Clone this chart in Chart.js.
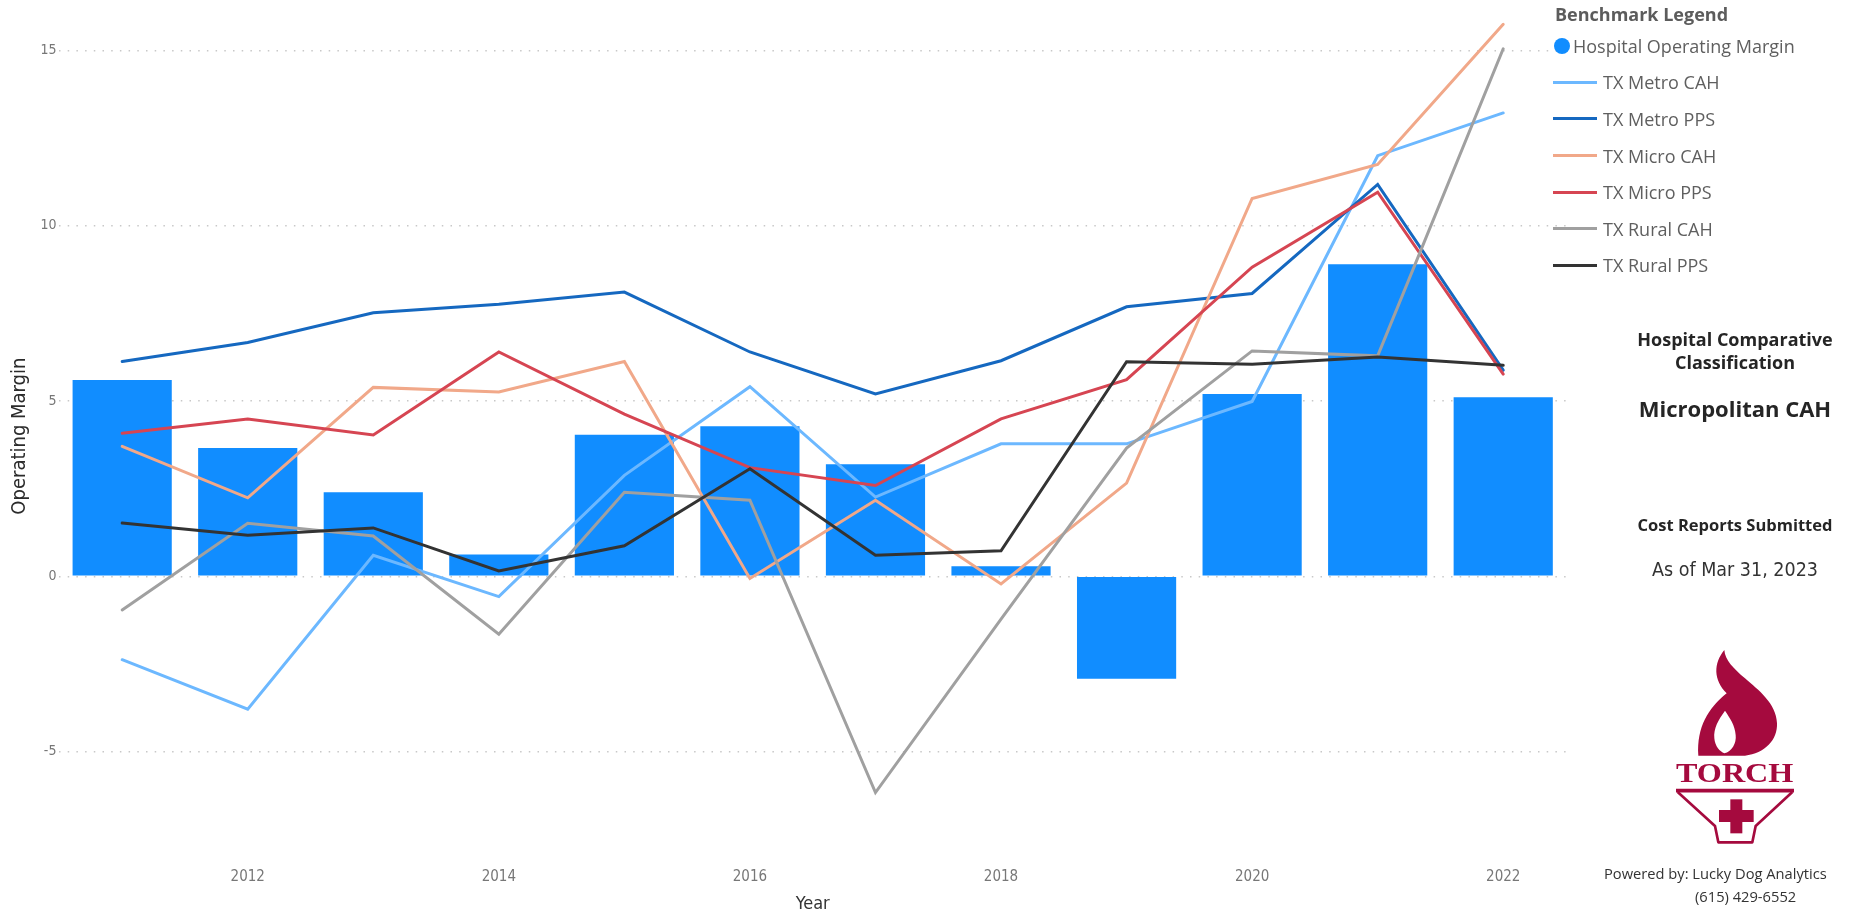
<!DOCTYPE html>
<html lang="en">
<head>
    <meta charset="UTF-8">
    <title>Operating Margin by Year</title>
    <style>
        body {
            margin: 0;
            padding: 0;
            background: #fff;
            overflow: hidden;
            font-family: "Open Sans", "Segoe UI", Arial, sans-serif;
        }

        .page {
            position: relative;
            width: 1862px;
            height: 915px;
        }

        #marginChart {
            position: absolute;
            left: 0;
            top: 0;
        }

        /* Legend built from the chart datasets */
        .legend {
            position: absolute;
            left: 1553px;
            top: 0;
            width: 300px;
        }

        .legend h3 {
            position: absolute;
            left: 2px;
            top: 2px;
            margin: 0;
            font-size: 18px;
            font-weight: 700;
            color: #5c5c5c;
            white-space: nowrap;
        }

        .legend .item {
            position: absolute;
            left: 0;
            height: 24px;
            line-height: 24px;
            font-size: 18px;
            color: #5f5f5f;
            white-space: nowrap;
        }

        .legend .dot {
            position: absolute;
            left: 1px;
            top: 4px;
            width: 16px;
            height: 16px;
            border-radius: 50%;
        }

        .legend .swatch {
            position: absolute;
            left: 0;
            top: 10.5px;
            width: 44px;
            height: 3px;
        }

        .side {
            position: absolute;
            left: 1605px;
            width: 260px;
            text-align: center;
            color: #252525;
            white-space: nowrap;
        }

        .side.heading { font-weight: 700; font-size: 18px; line-height: 23px; }
        .side.big { font-weight: 700; font-size: 22px; }
        .side.sub { font-weight: 700; font-size: 16.5px; }
        .side.date {
            font-family: "DejaVu Sans Condensed", "Liberation Sans Narrow", "DejaVu Sans", sans-serif;
            font-size: 19.5px;
            color: #333;
        }

        .logo {
            position: absolute;
            left: 1665px;
            top: 640px;
        }

        .footer {
            position: absolute;
            font-size: 14.7px;
            color: #333;
            white-space: nowrap;
        }
    </style>
</head>
<body>
    <div class="page">
        <canvas id="marginChart" width="1862" height="915"></canvas>

        <div class="legend" id="legend">
            <h3>Benchmark Legend</h3>
        </div>

        <div class="side heading" style="top: 328px;">Hospital Comparative<br>Classification</div>
        <div class="side big" style="top: 393px;">Micropolitan CAH</div>
        <div class="side sub" style="top: 513px;">Cost Reports Submitted</div>
        <div class="side date" style="top: 558px;">As of Mar 31, 2023</div>

        <!-- TORCH logo -->
        <svg class="logo" width="145" height="215" viewBox="0 0 435 645">
            <g fill="#a50a3e">
                <path d="M178,30 C145,70 145,120 185,160 C130,205 95,260 100,347 L240,347
                         C300,340 338,300 336,250 C334,190 280,150 240,115 C205,85 180,60 178,30 Z"/>
                <text x="33" y="425" font-family="Liberation Serif, DejaVu Serif, serif" font-weight="700"
                      font-size="84" textLength="352" lengthAdjust="spacingAndGlyphs">TORCH</text>
                <rect x="196" y="478" width="36" height="102"/>
                <rect x="162" y="510" width="104" height="36"/>
            </g>
            <path d="M180,212 C160,240 145,265 148,295 C150,320 165,335 178,340
                     C200,335 215,310 212,285 C210,255 195,235 180,212 Z" fill="#fff"/>
            <path d="M33,452 L387,452" stroke="#a50a3e" stroke-width="11"/>
            <path d="M38,456 L150,558 L160,607 L262,607 L272,558 L382,456"
                  stroke="#a50a3e" stroke-width="8" fill="none" stroke-linejoin="round"/>
        </svg>

        <div class="footer" style="left: 1604px; top: 863px;">Powered by: Lucky Dog Analytics</div>
        <div class="footer" style="left: 1695px; top: 886px;">(615) 429-6552</div>
    </div>

    <script src="https://cdn.jsdelivr.net/npm/chart.js"></script>
    <script>
        // Yearly operating margin (%) for the hospital and the Texas benchmarks
        const years = ['2011', '2012', '2013', '2014', '2015', '2016', '2017', '2018', '2019', '2020', '2021', '2022'];
        const hospitalMargin = [5.60, 3.66, 2.40, 0.62, 4.04, 4.28, 3.20, 0.29, -2.92, 5.20, 8.90, 5.11];
        const txMetroCah = [-2.38, -3.79, 0.60, -0.58, 2.88, 5.41, 2.26, 3.78, 3.78, 4.99, 12.00, 13.22];
        const txMetroPps = [6.13, 6.67, 7.52, 7.76, 8.11, 6.40, 5.20, 6.15, 7.69, 8.07, 11.18, 5.88];
        const txMicroCah = [3.71, 2.24, 5.39, 5.26, 6.13, -0.06, 2.17, -0.22, 2.66, 10.78, 11.75, 15.75];
        const txMicroPps = [4.08, 4.49, 4.03, 6.40, 4.63, 3.10, 2.59, 4.49, 5.61, 8.82, 10.96, 5.77];
        const txRuralCah = [-0.96, 1.51, 1.15, -1.65, 2.40, 2.17, -6.17, -1.22, 3.66, 6.43, 6.29, 15.05];
        const txRuralPps = [1.52, 1.17, 1.38, 0.15, 0.87, 3.07, 0.60, 0.73, 6.12, 6.05, 6.26, 6.02];
        const yTicks = [-5, 0, 5, 10, 15];

        const benchmarks = [
            { label: 'TX Metro CAH', data: txMetroCah, color: '#6cb8ff' },
            { label: 'TX Metro PPS', data: txMetroPps, color: '#1568c0' },
            { label: 'TX Micro CAH', data: txMicroCah, color: '#f1a889' },
            { label: 'TX Micro PPS', data: txMicroPps, color: '#d64552' },
            { label: 'TX Rural CAH', data: txRuralCah, color: '#a0a0a0' },
            { label: 'TX Rural PPS', data: txRuralPps, color: '#333333' }
        ];

        const axisFont = "'DejaVu Sans Condensed', 'Liberation Sans Narrow', 'DejaVu Sans', sans-serif";

        const datasets = [{
            type: 'bar',
            label: 'Hospital Operating Margin',
            data: hospitalMargin,
            backgroundColor: '#118dff',
            categoryPercentage: 1,
            barPercentage: 0.79,
            order: 100
        }];

        // later benchmarks are drawn on top of earlier ones
        benchmarks.forEach((b, i) => {
            datasets.push({
                type: 'line',
                label: b.label,
                data: b.data,
                borderColor: b.color,
                backgroundColor: b.color,
                borderWidth: 3,
                tension: 0,
                pointRadius: 0,
                pointHoverRadius: 0,
                borderCapStyle: 'round',
                clip: false,
                order: 20 - i
            });
        });

        const ctx = document.getElementById('marginChart').getContext('2d');
        const chart = new Chart(ctx, {
            type: 'bar',
            data: { labels: years, datasets: datasets },
            options: {
                responsive: false,
                animation: false,
                devicePixelRatio: 1,
                layout: {
                    padding: { top: 15.5, right: 296, bottom: 0, left: 0 }
                },
                plugins: {
                    legend: { display: false },
                    tooltip: { enabled: false }
                },
                scales: {
                    x: {
                        grid: { display: false, drawTicks: false },
                        border: { display: false },
                        ticks: {
                            color: '#777',
                            font: { family: axisFont, size: 15 },
                            padding: 11,
                            maxRotation: 0,
                            autoSkip: false,
                            // only even years carry a label
                            callback: function(value) {
                                const year = this.getLabelForValue(value);
                                return Number(year) % 2 === 0 ? year : null;
                            }
                        },
                        title: {
                            display: true,
                            text: 'Year',
                            color: '#333',
                            font: { family: axisFont, size: 18 },
                            padding: { top: 0, bottom: 0 }
                        },
                        afterFit: scale => { scale.height = 58.3; }
                    },
                    y: {
                        min: -8,
                        max: 16,
                        afterBuildTicks: scale => {
                            scale.ticks = yTicks.map(v => ({ value: v }));
                        },
                        grid: {
                            color: '#c8c8c8',
                            lineWidth: 1.5,
                            drawTicks: false
                        },
                        border: { display: false, dash: [1.5, 7.2] },
                        ticks: {
                            color: '#777',
                            font: { family: axisFont, size: 14 },
                            padding: 3
                        },
                        title: {
                            display: true,
                            text: 'Operating Margin',
                            color: '#2b2b2b',
                            font: { family: axisFont, size: 20 },
                            padding: { top: 8, bottom: 0 }
                        },
                        afterFit: scale => { scale.width = 59.4; }
                    }
                }
            }
        });

        // HTML legend generated from the chart's datasets
        const legendBox = document.getElementById('legend');
        chart.data.datasets.forEach((ds, i) => {
            const item = document.createElement('div');
            item.className = 'item';
            item.style.top = (45.7 + i * 36.6 - 12) + 'px';
            const mark = document.createElement('span');
            if (ds.type === 'bar') {
                mark.className = 'dot';
                mark.style.background = ds.backgroundColor;
                item.style.paddingLeft = '20px';
            } else {
                mark.className = 'swatch';
                mark.style.background = ds.borderColor;
                item.style.paddingLeft = '50px';
            }
            item.appendChild(mark);
            item.appendChild(document.createTextNode(ds.label));
            legendBox.appendChild(item);
        });
    </script>
</body>
</html>
